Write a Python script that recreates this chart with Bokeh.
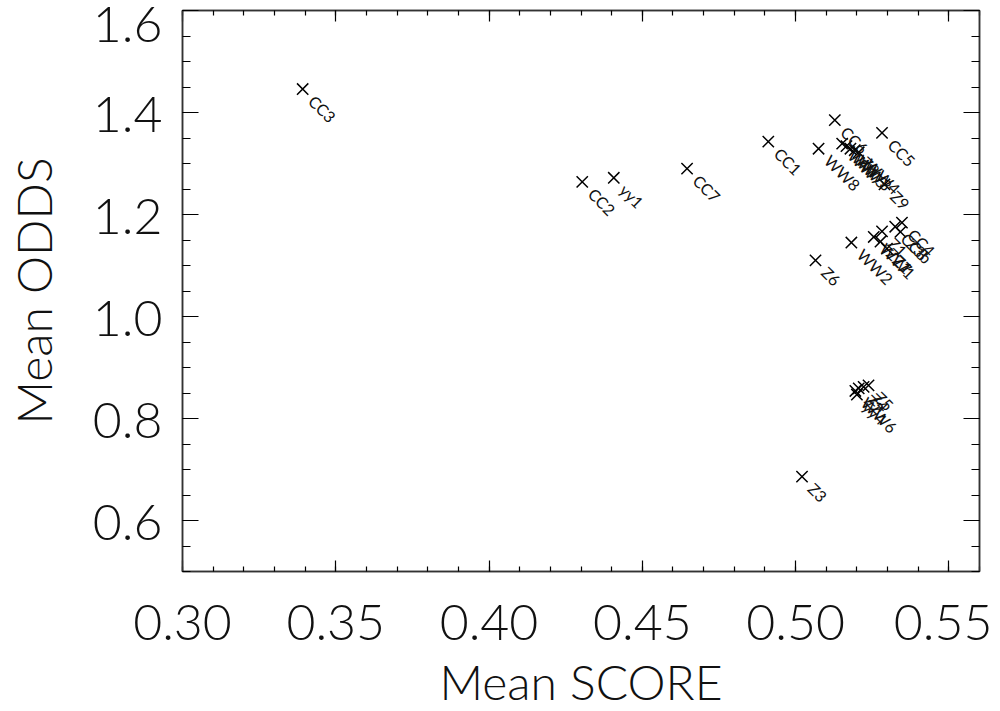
import math
from bokeh.plotting import figure
from bokeh.models import (Range1d, LinearAxis, FixedTicker,
                          ColumnDataSource, NumeralTickFormatter,
                          CustomJSTickFormatter)
from bokeh.core.properties import value
from bokeh.embed import file_html
from bokeh.resources import INLINE

# ---- data ----
names = ["CC3", "CC2", "yy1", "CC7", "CC1", "WW8", "CC6", "CC5", "Z9",
         "WW7", "WW5", "WW3", "Z8", "WW4",
         "Z6", "WW2", "WW1", "Z1", "Z7", "CC8", "CC4", "Z3b", "ZZ1",
         "WW6", "Z2", "Z4", "Z5", "yy4",
         "Z3"]
score = [0.3392, 0.4304, 0.4407, 0.4646, 0.4911, 0.5075, 0.5128, 0.5282, 0.5290,
         0.5152, 0.5166, 0.5179, 0.5193, 0.5206,
         0.5065, 0.5182, 0.5255, 0.5282, 0.5298, 0.5325, 0.5347, 0.5342, 0.5277,
         0.5195, 0.5206, 0.5222, 0.5238, 0.5200,
         0.5021]
odds = [1.446, 1.264, 1.272, 1.290, 1.343, 1.329, 1.385, 1.360, 1.259,
        1.339, 1.334, 1.329, 1.326, 1.322,
        1.110, 1.145, 1.156, 1.167, 1.133, 1.176, 1.184, 1.166, 1.147,
        0.854, 0.859, 0.862, 0.865, 0.847,
        0.686]

x_ticks = [0.30, 0.35, 0.40, 0.45, 0.50, 0.55]
y_ticks = [0.6, 0.8, 1.0, 1.2, 1.4, 1.6]
x_minor = [round(0.30 + 0.01 * i, 2) for i in range(27)]
y_minor = [round(0.50 + 0.05 * i, 2) for i in range(23)]

FONT = "Lato Light, Roboto Light, Open Sans Light, DejaVu Sans"
PFONT = "Lato, DejaVu Sans"
TXT = "#111111"

p = figure(frame_width=797, frame_height=561,
           x_range=Range1d(0.30, 0.56), y_range=Range1d(0.50, 1.60),
           output_backend="svg", toolbar_location=None,
           min_border_left=182, min_border_top=10, min_border_right=13,
           min_border_bottom=10, x_axis_label="Mean SCORE",
           y_axis_label="Mean ODDS")
p.grid.visible = False
p.outline_line_color = "#333333"
p.outline_line_width = 1.5
p.background_fill_color = "white"
p.border_fill_color = "white"

xt = FixedTicker(ticks=x_ticks, minor_ticks=x_minor)
yt = FixedTicker(ticks=y_ticks, minor_ticks=y_minor)

def style(ax, ticker, major_len, minor_len, show_labels):
    ax.ticker = ticker
    ax.axis_line_color = "#333333"
    ax.axis_line_width = 1.5
    ax.major_tick_in = major_len
    ax.major_tick_out = 0
    ax.minor_tick_in = minor_len
    ax.minor_tick_out = 0
    ax.major_tick_line_color = "black"
    ax.minor_tick_line_color = "black"
    ax.major_tick_line_width = 1.2
    ax.minor_tick_line_width = 1.2
    if not show_labels:
        ax.formatter = CustomJSTickFormatter(code="return ''")
        ax.major_label_standoff = 0
        ax.axis_label = None

xa = p.xaxis[0]
style(xa, xt, 11, 5, True)
xa.formatter = NumeralTickFormatter(format="0.00")
xa.major_label_text_font = FONT
xa.major_label_text_font_size = "50px"
xa.major_label_text_color = TXT
xa.major_label_standoff = 33
xa.axis_label_text_font = FONT
xa.axis_label_text_font_size = "48px"
xa.axis_label_text_font_style = "normal"
xa.axis_label_text_color = TXT
xa.axis_label_standoff = 10

ya = p.yaxis[0]
style(ya, yt, 16, 8, True)
ya.formatter = NumeralTickFormatter(format="0.0")
ya.major_label_overrides = {1.6: " "}
ya.major_label_text_font = FONT
ya.major_label_text_font_size = "50px"
ya.major_label_text_color = TXT
ya.major_label_standoff = 20
ya.axis_label_text_font = FONT
ya.axis_label_text_font_size = "48px"
ya.axis_label_text_font_style = "normal"
ya.axis_label_text_color = TXT
ya.axis_label_standoff = 28

top = LinearAxis()
style(top, FixedTicker(ticks=x_ticks, minor_ticks=x_minor), 11, 5, False)
p.add_layout(top, "above")
right = LinearAxis()
style(right, FixedTicker(ticks=y_ticks, minor_ticks=y_minor), 16, 8, False)
p.add_layout(right, "right")

# top y tick label: sits just below the top edge in the reference
top_lab = ColumnDataSource(dict(x=[x_ticks[0]], y=[y_ticks[-1]], t=["1.6"]))
p.text("x", "y", text="t", source=top_lab, x_offset=-20, y_offset=-4,
       text_align="right", text_baseline="top", text_font=value(FONT),
       text_font_size="50px", text_color=TXT, level="overlay")

src = ColumnDataSource(dict(x=score, y=odds, name=names))
p.scatter("x", "y", source=src, marker="x", size=16, line_width=1.5,
          color="black")
p.text("x", "y", text="name", source=src, angle=-math.pi / 4,
       x_offset=9, y_offset=9, text_align="left", text_baseline="middle",
       text_font=value(PFONT), text_font_size="16px", text_color=TXT)

open("out.html", "w").write(file_html(p, INLINE))
